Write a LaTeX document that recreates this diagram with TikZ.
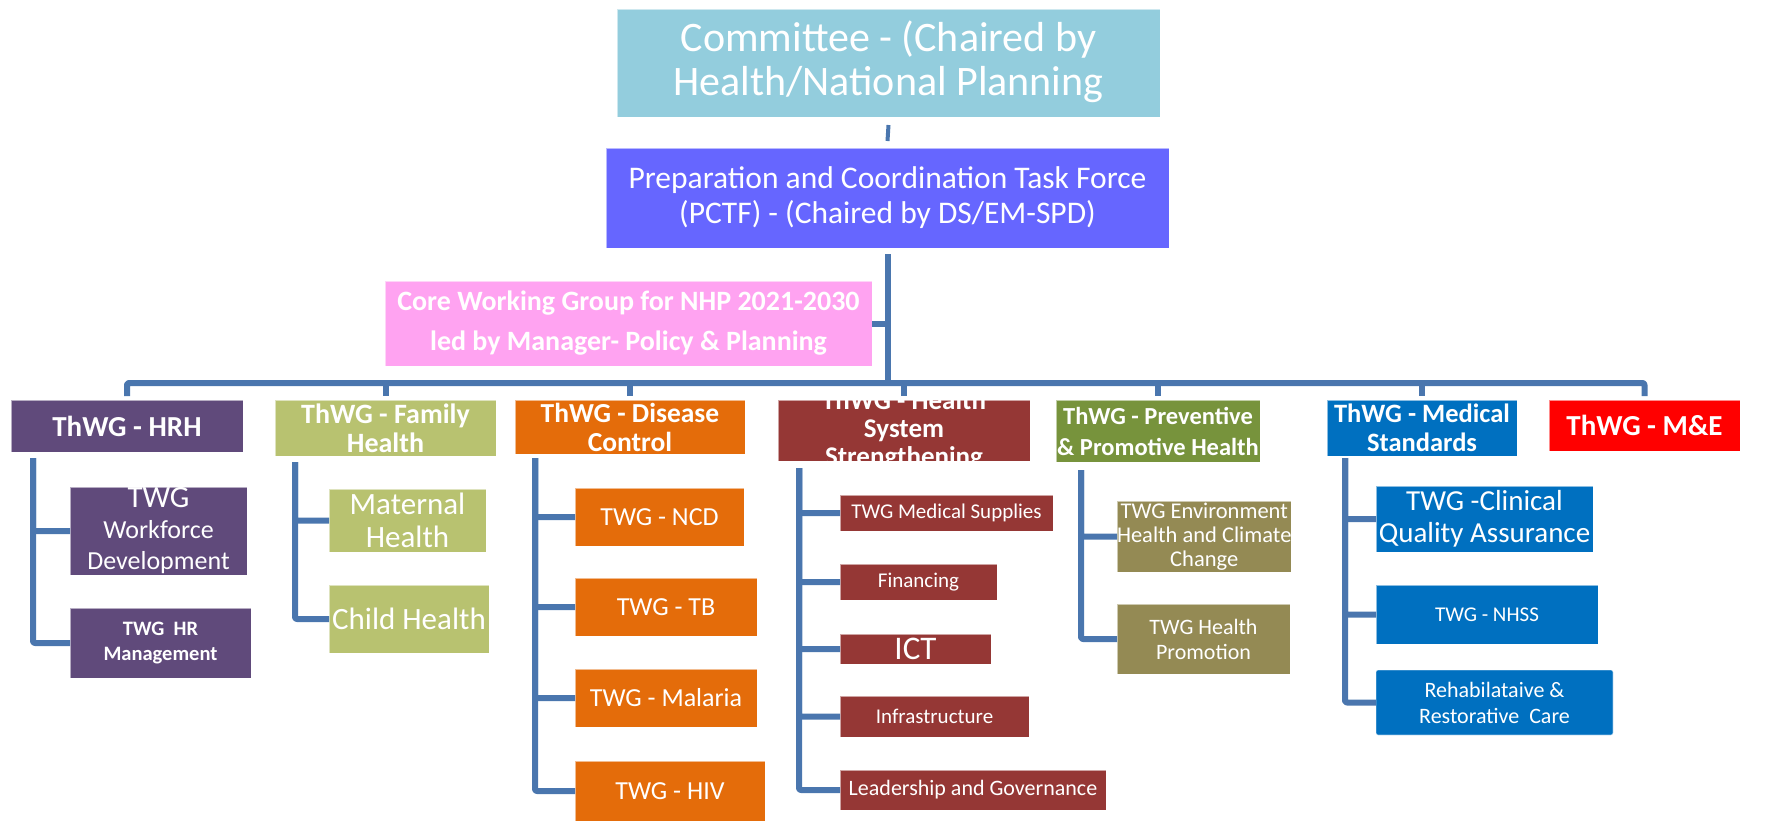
\documentclass[tikz,border=0pt]{standalone}
\usepackage{fontspec}
\setmainfont{Carlito}
\usetikzlibrary{calc}

\definecolor{cTop}{HTML}{93CDDD}
\definecolor{cPctf}{HTML}{6666FF}
\definecolor{cPink}{HTML}{FFA3F1}
\definecolor{cHrh}{HTML}{604A7B}
\definecolor{cFam}{HTML}{B8C270}
\definecolor{cDis}{HTML}{E46C0A}
\definecolor{cHss}{HTML}{953735}
\definecolor{cPrev}{HTML}{77933C}
\definecolor{cMed}{HTML}{0070C0}
\definecolor{cMe}{HTML}{FF0000}
\definecolor{cEnv}{HTML}{948A54}
\definecolor{cLink}{HTML}{4A76AE}

\newcommand\fsz[2]{\fontsize{#1}{#2}\selectfont}

\tikzset{
  box/.style={anchor=north west, inner sep=0pt, outer sep=0pt, text=white, align=center,
              draw=white, draw opacity=0.55, line width=0.8pt},
  conn/.style={draw=cLink, line width=6pt, line join=round, rounded corners=2pt},
}

\begin{document}
\begin{tikzpicture}[x=1pt,y=-1pt]
\useasboundingbox (0,0) rectangle (1775,823);

% --- top levels ---
\node[box, fill=cTop, minimum width=543pt, minimum height=108pt] (top) at (617,9) {};
\begin{scope}
  \clip (top.north west) rectangle (top.south east);
  \node[text=white, align=center, font=\fsz{42}{44}] at ($(top.center)+(0,-1)$)
    {Committee - (Chaired by\\Health/National Planning};
\end{scope}

\node[box, fill=cPctf, minimum width=563pt, minimum height=100pt, font=\fsz{31.5}{35}] (pctf) at (606,148)
  {Preparation and Coordination Task Force\\(PCTF) - (Chaired by DS/EM-SPD)};

\node[box, fill=cPink, minimum width=487pt, minimum height=85pt, font=\fsz{28}{40}\bfseries] (pink) at (385,281)
  {Core Working Group for NHP 2021-2030\\led by Manager- Policy \& Planning};

% --- thematic working groups ---
\node[box, fill=cHrh, minimum width=232pt, minimum height=52pt, font=\fsz{29}{29}\bfseries] (hrh) at (11,400) {ThWG - HRH};
\node[box, fill=cFam, minimum width=221pt, minimum height=56pt, font=\fsz{28}{29}\bfseries] (fam) at (275,400) {ThWG - Family\\Health};
\node[box, fill=cDis, minimum width=230pt, minimum height=54pt, font=\fsz{27.5}{29}\bfseries] (dis) at (515,400) {ThWG - Disease\\Control};
\node[box, fill=cHss, minimum width=252pt, minimum height=61pt] (hss) at (778,400) {};
\begin{scope}
  \clip (hss.north west) rectangle (hss.south east);
  \node[text=white, align=center, font=\fsz{27}{28}\bfseries] at (hss.center)
    {ThWG - Health\\System\\Strengthening};
\end{scope}
\node[box, fill=cPrev, minimum width=204pt, minimum height=62pt, font=\fsz{24.5}{31}\bfseries] (prev) at (1056,400) {ThWG - Preventive\\\& Promotive Health};
\node[box, fill=cMed, minimum width=190pt, minimum height=56pt, font=\fsz{26.5}{29}\bfseries] (med) at (1327,400) {ThWG - Medical\\Standards};
\node[box, fill=cMe, minimum width=191pt, minimum height=51pt, font=\fsz{29}{30}\bfseries] (me) at (1549,400) {ThWG - M\&E};

% --- technical working groups ---
\node[box, fill=cHrh, minimum width=177pt, minimum height=88pt, font=\fsz{26}{31}] (wf) at (70,487)
  {{\fsz{31}{31}TWG}\\Workforce\\Development};
\node[box, fill=cHrh, minimum width=181pt, minimum height=70pt, font=\fsz{20.5}{25}\bfseries] (hrm) at (70,608)
  {TWG~~HR\\Management};

\node[box, fill=cFam, minimum width=157pt, minimum height=63pt, font=\fsz{31}{33}] (mat) at (329,489) {Maternal\\Health};
\node[box, fill=cFam, minimum width=160pt, minimum height=68pt, font=\fsz{31}{33}] (chi) at (329,585) {Child Health};

\node[box, fill=cDis, minimum width=169pt, minimum height=58pt, font=\fsz{26}{30}] (ncd) at (575,488) {TWG - NCD};
\node[box, fill=cDis, minimum width=182pt, minimum height=58pt, font=\fsz{26}{30}] (tb) at (575,578) {TWG - TB};
\node[box, fill=cDis, minimum width=182pt, minimum height=58pt, font=\fsz{26}{30}] (mal) at (575,669) {TWG - Malaria};
\node[box, fill=cDis, minimum width=190pt, minimum height=60pt, font=\fsz{26}{30}] (hiv) at (575,761) {TWG - HIV};

\node[box, fill=cHss, minimum width=213pt, minimum height=36pt, font=\fsz{21}{24}] (msup) at (840,495) {TWG Medical Supplies};
\node[box, fill=cHss, minimum width=157pt, minimum height=36pt, font=\fsz{21}{24}] (fin) at (840,564) {Financing};
\node[box, fill=cHss, minimum width=151pt, minimum height=30pt, font=\fsz{33}{33}] (ict) at (840,634) {ICT};
\node[box, fill=cHss, minimum width=189pt, minimum height=41pt, font=\fsz{21}{24}] (infra) at (840,696) {Infrastructure};
\node[box, fill=cHss, minimum width=266pt, minimum height=40pt, font=\fsz{22}{24}] (lead) at (840,770) {Leadership and Governance};

\node[box, fill=cEnv, minimum width=168pt, minimum height=71pt, font=\fsz{22.5}{24}] (env) at (1117,501)
  {TWG Environment\\Health and Climate\\Change};
\node[box, fill=cEnv, minimum width=173pt, minimum height=70pt, font=\fsz{22}{25}] (hp) at (1117,604)
  {TWG Health\\Promotion};

\node[box, fill=cMed, minimum width=217pt, minimum height=66pt, font=\fsz{29}{32}] (cqa) at (1376,486)
  {TWG -Clinical\\Quality Assurance};
\node[box, fill=cMed, minimum width=222pt, minimum height=59pt, font=\fsz{21}{24}] (nhss) at (1376,585) {TWG - NHSS};
\node[box, fill=cMed, minimum width=237pt, minimum height=65pt, rounded corners=2pt, font=\fsz{22}{26}] (reh) at (1376,670)
  {Rehabilataive \&\\Restorative~~Care};

% --- connectors ---
\coordinate (busy) at (0,383);
\draw[conn, line width=4pt] ([yshift=-8pt]top.south) -- ([yshift=7pt]pctf.north);
\draw[conn] ([yshift=-6pt]pctf.south) -- (pctf.south |- busy);
\draw[conn] (pink.east) -- (pink.east -| pctf.south);
\draw[conn] ([yshift=4pt]hrh.north) |- (busy -| pctf.south) -| ([yshift=4pt]me.north);
\foreach \n in {fam,dis,hss,prev,med}
  \draw[conn] (\n.north |- busy) -- ([yshift=4pt]\n.north);

\coordinate (hrhx) at ($(hrh.south west)+(22,6)$);
\coordinate (famx) at ($(fam.south west)+(20,6)$);
\coordinate (disx) at ($(dis.south west)+(20,4)$);
\coordinate (hssx) at ($(hss.south west)+(21,7)$);
\coordinate (prevx) at ($(prev.south west)+(25,8)$);
\coordinate (medx) at ($(med.south west)+(18,2)$);

\foreach \c in {wf,hrm} \draw[conn] (hrhx) |- (\c.west);
\foreach \c in {mat,chi} \draw[conn] (famx) |- (\c.west);
\foreach \c in {ncd,tb,mal,hiv} \draw[conn] (disx) |- (\c.west);
\foreach \c in {msup,fin,ict,infra,lead} \draw[conn] (hssx) |- (\c.west);
\foreach \c in {env,hp} \draw[conn] (prevx) |- (\c.west);
\foreach \c in {cqa,nhss,reh} \draw[conn] (medx) |- (\c.west);
\end{tikzpicture}
\end{document}
